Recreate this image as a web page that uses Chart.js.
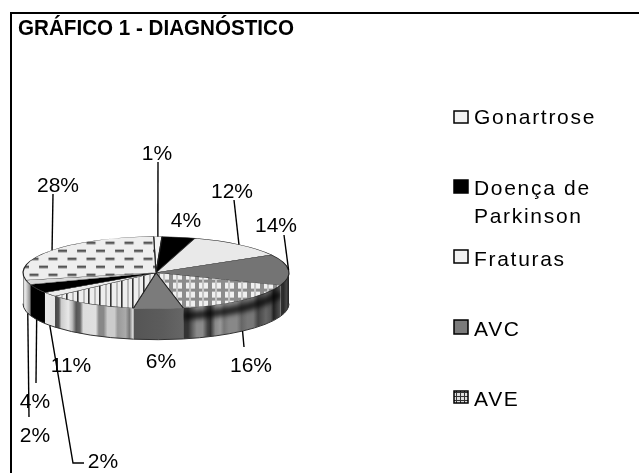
<!DOCTYPE html>
<html lang="pt">
<head>
<meta charset="utf-8">
<style>
html,body{margin:0;padding:0;background:#fff;overflow:hidden}
canvas{display:block;filter:blur(.45px)}
</style>
<script src="https://cdn.jsdelivr.net/npm/chart.js@4"></script>
</head>
<body>
<canvas id="c" width="639" height="473"></canvas>
<script>
// ---- data ----
const titleText = 'GRÁFICO 1 - DIAGNÓSTICO';
const categories = ['Gonartrose', 'Doença de Parkinson', 'Fraturas', 'AVC', 'AVE', '', '', '', '', '', ''];
const values = [1, 4, 12, 14, 16, 6, 11, 2, 4, 2, 28];
const legendLines = [['Gonartrose'], ['Doença de', 'Parkinson'], ['Fraturas'], ['AVC'], ['AVE']];

// ---- layout / style ----
const FONT = '"Liberation Sans", Arial, sans-serif';
const tilt = 36 / 133, centerY = 272.7, depth = 31, radius = 133;
const labelBoxes = [ // text centre x, baseline y, leader elbow/end points
  {x:157,y:160,leader:[[158,162]]},
  {x:186,y:227},
  {x:232,y:198,leader:[[234,200]]},
  {x:276,y:232,leader:[[284,235]]},
  {x:251,y:372,leader:[[244,347]],wall:true},
  {x:161,y:368},
  {x:71,y:372},
  {x:103,y:468,leader:[[73,463],[84,463]],wall:true},
  {x:35,y:408,leader:[[36,383]],wall:true},
  {x:35,y:442,leader:[[29,417]],wall:true},
  {x:58,y:192,leader:[[53,194]]}
];
const legendRows = [
  {box:[454,111,14,12],base:[124]},
  {box:[454,180,14,13],base:[195,223]},
  {box:[454,250,14,13],base:[266]},
  {box:[454,320,14,14],base:[336]},
  {box:[454,391,14,12],base:[406]}
];

function tile(w, h, draw) {
  const t = document.createElement('canvas');
  t.width = w; t.height = h;
  draw(t.getContext('2d'));
  return t;
}
const ctx0 = document.getElementById('c').getContext('2d');
function pattern(t, k) {
  const p = ctx0.createPattern(t, 'repeat');
  p.setTransform(new DOMMatrix().scale(1, 1 / k));
  return p;
}
const dashTile = tile(19, 16, g => {
  g.fillStyle = '#eeeeee'; g.fillRect(0, 0, 19, 16);
  g.fillStyle = '#555555';
  g.fillRect(1, 3, 9, 2.5);
  g.fillRect(10.5, 11, 9, 2.5); g.fillRect(-8.5, 11, 9, 2.5);
});
const stripeTile = tile(11, 4, g => {
  g.fillStyle = '#eeeeee'; g.fillRect(0, 0, 11, 4);
  g.fillStyle = '#333333'; g.fillRect(0, 0, 1.6, 4);
  g.fillStyle = '#bbbbbb'; g.fillRect(6, 0, 2, 4);
});
const checkTile = tile(13, 9, g => {
  g.fillStyle = '#f0f0f0'; g.fillRect(0, 0, 13, 9);
  g.fillStyle = '#8c8c8c'; g.fillRect(0, 0, 13, 3); g.fillRect(0, 0, 4, 9);
  g.fillStyle = '#c4c4c4'; g.fillRect(7, 0, 2, 9);
});
const swatchTile = tile(4, 4, g => {
  g.fillStyle = '#dddddd'; g.fillRect(0, 0, 4, 4);
  g.fillStyle = '#333333'; g.fillRect(0, 0, 4, 1); g.fillRect(0, 0, 1, 4);
});
const sliceFills = [
  '#f2f2f2', '#000000', '#e9e9e9', '#747474',
  pattern(checkTile, tilt), '#7b7b7b', pattern(stripeTile, tilt),
  '#ececec', '#000000', '#d8d8d8', pattern(dashTile, tilt)
];
const swatchFills = ['#f2f2f2', '#000000', '#f2f2f2', '#7b7b7b', ctx0.createPattern(swatchTile, 'repeat')];
const wallBands = [
  [[0,'#ddd'],[1,'#ddd']],
  [[0,'#000'],[1,'#000']],
  [[0,'#ddd'],[1,'#ddd']],
  [[0,'#333'],[.35,'#2a2a2a'],[.7,'#474747'],[1,'#1f1f1f']],
  [[0,'#333'],[.05,'#333'],[.10,'#666'],[.14,'#8a8a8a'],[.2,'#8a8a8a'],[.25,'#444'],[.28,'#333'],[.33,'#888'],[.38,'#999'],[.42,'#777'],[.47,'#888'],[.55,'#888'],[.6,'#666'],[.66,'#777'],[.72,'#777'],[.77,'#444'],[.85,'#666'],[.9,'#555'],[.93,'#222'],[1,'#555']],
  [[0,'#555'],[.6,'#5c5c5c'],[1,'#666']],
  [[0,'#444'],[.05,'#555'],[.08,'#ccc'],[.17,'#e8e8e8'],[.22,'#bbb'],[.27,'#555'],[.32,'#666'],[.36,'#ddd'],[.52,'#e0e0e0'],[.56,'#888'],[.62,'#888'],[.67,'#ccc'],[.76,'#ccc'],[.80,'#999'],[.90,'#aaa'],[.95,'#777'],[1,'#eee']],
  [[0,'#e8e8e8'],[1,'#e4e4e4']],
  [[0,'#000'],[1,'#000']],
  [[0,'#e0e0e0'],[1,'#888']],
  [[0,'#555'],[.4,'#ddd'],[1,'#ddd']]
];

function geo(chart) {
  const arcs = chart.getDatasetMeta(0).data;
  return {arcs, cx: arcs[0].x, cy: arcs[0].y, r: arcs[0].outerRadius};
}

const pie3d = {
  id: 'pie3d',
  beforeDraw(chart) {
    const c = chart.ctx;
    c.save();
    c.strokeStyle = '#000'; c.lineWidth = 2;
    c.beginPath(); c.moveTo(11, 473); c.lineTo(11, 13); c.lineTo(639, 13); c.stroke();
    c.restore();
  },
  beforeDatasetsDraw(chart) {
    const c = chart.ctx, {arcs, cx, r} = geo(chart), ry = r * tilt;
    arcs.forEach((arc, i) => {
      const a = Math.max(arc.startAngle, 0), b = Math.min(arc.endAngle, Math.PI);
      if (b <= a) return;
      const path = () => {
        c.beginPath();
        c.ellipse(cx, centerY, r, ry, 0, a, b);
        c.ellipse(cx, centerY + depth, r, ry, 0, b, a, true);
        c.closePath();
      };
      const x1 = cx + r * Math.cos(b), x2 = cx + r * Math.cos(a);
      const grad = c.createLinearGradient(x1, 0, x2, 0);
      wallBands[i].forEach(s => grad.addColorStop(s[0], s[1]));
      c.save();
      path();
      c.fillStyle = grad; c.fill();
      if (i === 4) {
        c.clip();
        c.filter = 'blur(2.5px)';
        c.strokeStyle = 'rgba(0,0,0,.75)'; c.lineWidth = 8;
        c.beginPath(); c.ellipse(cx, centerY + 8, r, ry, 0, a, b); c.stroke();
        c.filter = 'none';
      }
      c.restore();
      c.save();
      c.strokeStyle = '#333'; c.lineWidth = 1;
      c.beginPath(); c.ellipse(cx, centerY + depth, r, ry, 0, a, b); c.stroke();
      c.restore();
    });
    c.save();
    c.translate(cx, centerY); c.scale(1, tilt); c.translate(-cx, -arcs[0].y);
  },
  afterDatasetsDraw(chart) {
    const c = chart.ctx, {arcs, cx, r} = geo(chart), ry = r * tilt;
    c.restore();
    c.save();
    // leader lines and percentage labels
    c.strokeStyle = '#000'; c.lineWidth = 1.4; c.lineJoin = 'miter';
    c.fillStyle = '#000'; c.textAlign = 'center'; c.textBaseline = 'alphabetic';
    c.font = '21px ' + FONT;
    arcs.forEach((arc, i) => {
      const box = labelBoxes[i], mid = (arc.startAngle + arc.endAngle) / 2;
      if (box.leader) {
        const sx = cx + r * Math.cos(mid), sy = centerY + ry * Math.sin(mid) + (box.wall ? depth : 0);
        c.beginPath(); c.moveTo(sx, sy);
        box.leader.forEach(p => c.lineTo(p[0], p[1]));
        c.stroke();
      }
      c.fillText(values[i] + '%', box.x, box.y);
    });
    // legend
    c.textAlign = 'left'; c.letterSpacing = '1.7px';
    legendLines.forEach((lines, i) => {
      const row = legendRows[i];
      c.fillStyle = swatchFills[i];
      c.fillRect(row.box[0], row.box[1], row.box[2], row.box[3]);
      c.strokeStyle = '#000'; c.lineWidth = 1.5;
      c.strokeRect(row.box[0], row.box[1], row.box[2], row.box[3]);
      c.fillStyle = '#000';
      lines.forEach((t, j) => c.fillText(t, 474, row.base[j]));
    });
    c.letterSpacing = '0px';
    c.restore();
  }
};

new Chart(document.getElementById('c'), {
  type: 'pie',
  data: {
    labels: categories,
    datasets: [{
      data: values,
      backgroundColor: sliceFills,
      borderColor: '#222222',
      borderWidth: 1.2,
      clip: false
    }]
  },
  options: {
    responsive: false,
    animation: false,
    rotation: -1,
    radius: radius,
    layout: {padding: {left: 18, right: 345, top: 14, bottom: 67}},
    plugins: {
      legend: {display: false},
      tooltip: {enabled: false},
      title: {
        display: true,
        text: titleText,
        align: 'start',
        color: '#000',
        font: {family: FONT, size: 21.4, weight: 'bold'},
        padding: {top: 2, bottom: 100}
      }
    }
  },
  plugins: [pie3d]
});
</script>
</body>
</html>
